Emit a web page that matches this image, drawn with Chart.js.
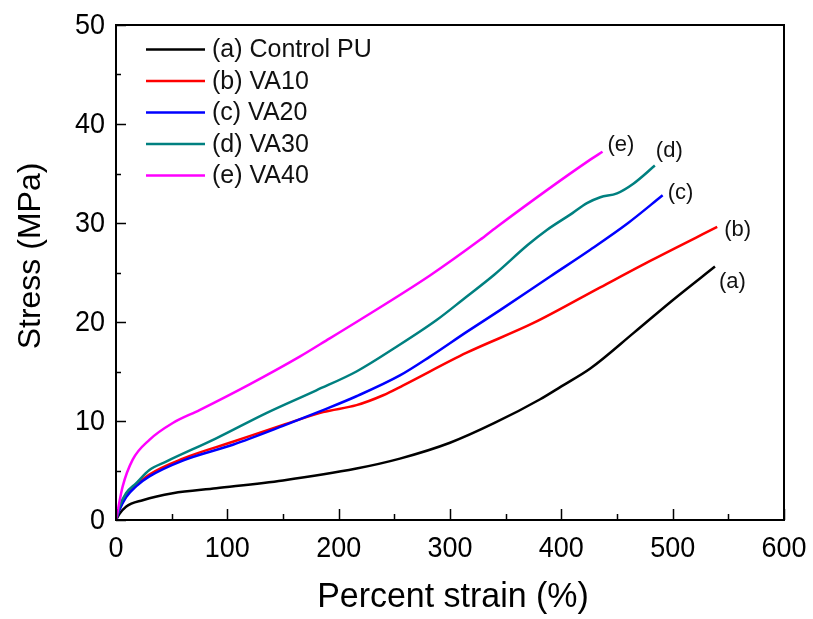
<!DOCTYPE html>
<html>
<head>
<meta charset="utf-8">
<script src="https://cdn.jsdelivr.net/npm/chart.js@4/dist/chart.umd.min.js"></script>
<style>
  html, body { margin: 0; padding: 0; background: #fff; }
  #wrap { width: 813px; height: 619px; }
</style>
</head>
<body>
<div id="wrap"><canvas id="chart" width="813" height="619"></canvas></div>
<script>
// Values (strain %, stress MPa)
const strainA = [0, 3, 9, 24, 51, 90, 150, 216, 255, 300, 340, 381, 400, 426, 465, 500, 538];
const stressA = [0, 0.6, 1.35, 2.0, 2.7, 3.2, 4.0, 5.2, 6.2, 7.8, 9.8, 12.2, 13.5, 15.3, 18.9, 22.2, 25.6];

const strainB = [0, 3, 9, 18, 30, 60, 105, 150, 186, 216, 240, 258, 315, 375, 435, 482, 540];
const stressB = [0, 1.1, 2.4, 3.5, 4.6, 6.2, 7.9, 9.6, 10.9, 11.6, 12.6, 13.6, 16.9, 19.9, 23.5, 26.3, 29.6];

const strainC = [0, 3, 9, 18, 30, 60, 105, 150, 186, 216, 255, 282, 315, 345, 390, 426, 460, 491];
const stressC = [0, 1.0, 2.3, 3.4, 4.4, 6.0, 7.6, 9.5, 11.1, 12.5, 14.6, 16.5, 19.0, 21.2, 24.6, 27.3, 30.0, 32.8];

const strainD = [0, 3, 9, 18, 30, 45, 90, 135, 180, 216, 252, 288, 312, 340, 370, 387, 410, 423, 435, 450, 465, 484];
const stressD = [0, 1.3, 2.7, 3.7, 5.05, 5.9, 8.25, 10.8, 13.1, 15.0, 17.5, 20.2, 22.3, 24.8, 27.8, 29.3, 31.0, 32.0, 32.6, 33.0, 34.0, 35.8];

const strainE = [0, 2, 6, 15, 30, 51, 75, 120, 165, 192, 216, 282, 327, 342, 426, 437];
const stressE = [0, 1.2, 3.4, 6.1, 8.1, 9.8, 11.1, 13.7, 16.5, 18.35, 20.0, 24.7, 28.3, 29.6, 36.4, 37.2];

const seriesNames = ["(a) Control PU", "(b) VA10", "(c) VA20", "(d) VA30", "(e) VA40"];
const endLabels = ["(a)", "(b)", "(c)", "(d)", "(e)"];
const seriesColors = ["#000000", "#ff0000", "#0000ff", "#008080", "#ff00ff"];

const xTicksMajor = 100, xTicksMinor = 50;
const yTicksMajor = 10, yTicksMinor = 5;

const FONT = "'Liberation Sans', Arial, sans-serif";

// where each end label sits relative to the end of its curve
const labelOffsets = [[4, 15], [7, 3], [5, -2], [1, -15], [5, -7]];

const toPoints = (xs, ys) => xs.map((x, i) => ({ x, y: ys[i] }));
const allSeries = [
  toPoints(strainA, stressA),
  toPoints(strainB, stressB),
  toPoints(strainC, stressC),
  toPoints(strainD, stressD),
  toPoints(strainE, stressE),
];

const datasets = allSeries.map((pts, i) => ({
  label: seriesNames[i],
  data: pts,
  borderColor: seriesColors[i],
  backgroundColor: seriesColors[i],
  borderWidth: 2.5,
  pointRadius: 0,
  showLine: true,
  fill: false,
  cubicInterpolationMode: "monotone",
  order: allSeries.length - i,
}));

// slightly narrow text, like the original figure
const narrowText = (ctx, text, x, y, sx) => {
  ctx.save();
  ctx.translate(x, y);
  ctx.scale(sx, 1);
  ctx.fillText(text, 0, 0);
  ctx.restore();
};

// frame, inward ticks, tick labels, legend, end labels and axis titles
const decorations = {
  id: "decorations",
  afterDraw(chart) {
    const { ctx, chartArea: area, scales } = chart;
    const xs = scales.x, ys = scales.y;
    ctx.save();

    // ticks pointing inside
    ctx.strokeStyle = "#000";
    ctx.lineWidth = 1.5;
    ctx.beginPath();
    for (let v = xs.min; v <= xs.max; v += xTicksMinor) {
      const px = Math.round(xs.getPixelForValue(v)) + 0.5;
      const len = v % xTicksMajor === 0 ? 11 : 6;
      ctx.moveTo(px, area.bottom);
      ctx.lineTo(px, area.bottom - len);
    }
    for (let v = ys.min; v <= ys.max; v += yTicksMinor) {
      const py = Math.round(ys.getPixelForValue(v)) + 0.5;
      const len = v % yTicksMajor === 0 ? 10 : 5;
      ctx.moveTo(area.left, py);
      ctx.lineTo(area.left + len, py);
    }
    ctx.stroke();

    // box
    ctx.lineWidth = 2;
    ctx.strokeRect(area.left, area.top, area.right - area.left, area.bottom - area.top);

    // tick labels
    ctx.fillStyle = "#000";
    ctx.font = "29px " + FONT;
    ctx.textBaseline = "middle";
    ctx.textAlign = "center";
    for (let v = xs.min; v <= xs.max; v += xTicksMajor) {
      narrowText(ctx, String(v), xs.getPixelForValue(v), area.bottom + 29, 0.93);
    }
    ctx.textAlign = "right";
    for (let v = ys.min; v <= ys.max; v += yTicksMajor) {
      narrowText(ctx, String(v), area.left - 11, ys.getPixelForValue(v) + 1, 0.93);
    }

    // legend inside the plot
    ctx.font = "25px " + FONT;
    ctx.textAlign = "left";
    ctx.textBaseline = "middle";
    seriesNames.forEach((name, i) => {
      const y = 49.5 + i * 31.5;
      ctx.strokeStyle = seriesColors[i];
      ctx.lineWidth = 2.5;
      ctx.beginPath();
      ctx.moveTo(146, y);
      ctx.lineTo(205, y);
      ctx.stroke();
      ctx.fillStyle = "#111";
      ctx.fillText(name, 212, y + 1);
    });

    // labels at curve ends
    ctx.font = "22px " + FONT;
    allSeries.forEach((pts, i) => {
      const last = pts[pts.length - 1];
      const px = xs.getPixelForValue(last.x);
      const py = ys.getPixelForValue(last.y);
      ctx.fillStyle = "#111";
      ctx.fillText(endLabels[i], px + labelOffsets[i][0], py + labelOffsets[i][1]);
    });

    // axis titles
    ctx.textAlign = "center";
    ctx.fillStyle = "#000";
    ctx.font = "35px " + FONT;
    narrowText(ctx, "Percent strain (%)", (area.left + area.right) / 2 + 3, 597, 0.97);
    ctx.font = "32px " + FONT;
    ctx.translate(31, 256);
    ctx.rotate(-Math.PI / 2);
    ctx.fillText("Stress (MPa)", 0, 0);
    ctx.restore();
  },
};

new Chart(document.getElementById("chart"), {
  type: "scatter",
  data: { datasets },
  options: {
    responsive: false,
    animation: false,
    layout: { padding: { top: 25, right: 29, left: 0, bottom: 0 } },
    plugins: {
      legend: { display: false },
      tooltip: { enabled: false },
    },
    scales: {
      x: {
        type: "linear",
        min: 0,
        max: 600,
        grid: { display: false },
        border: { display: false },
        ticks: { display: false, stepSize: xTicksMajor },
        afterFit: (scale) => { scale.height = 99; },
      },
      y: {
        type: "linear",
        min: 0,
        max: 50,
        grid: { display: false },
        border: { display: false },
        ticks: { display: false, stepSize: yTicksMajor },
        afterFit: (scale) => { scale.width = 116; },
      },
    },
  },
  plugins: [decorations],
});
</script>
</body>
</html>
